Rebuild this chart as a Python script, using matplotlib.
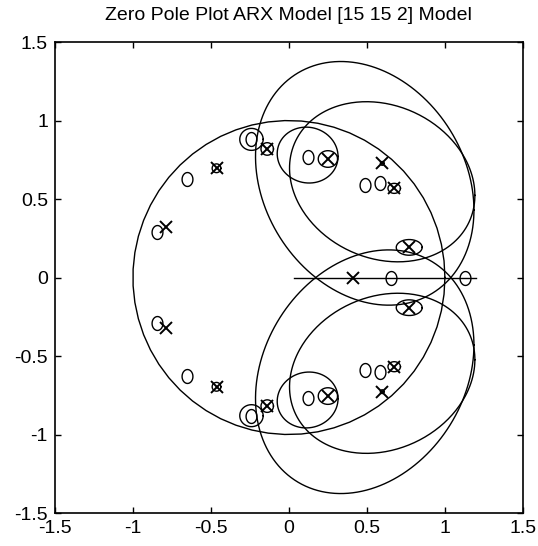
import numpy as np
import matplotlib
matplotlib.use("Agg")
import matplotlib.pyplot as plt
from matplotlib.path import Path

plt.rcParams.update({
    'font.family': ['Liberation Sans', 'DejaVu Sans'],
    'font.size': 14,
})

# complex zeros (upper half, conjugates mirrored below)
zero_re = [-0.848, -0.652, -0.24, 0.124, 0.487, 0.583]
zero_im = [0.292, 0.627, 0.88, 0.77, 0.589, 0.60]
real_zeros = [0.652, 1.13]

# complex poles (upper half)
pole_re = [-0.788, -0.464, -0.139, 0.25, 0.598, 0.675, 0.771]
pole_im = [0.324, 0.696, 0.819, 0.755, 0.727, 0.568, 0.192]
real_poles = [0.41]

# confidence regions (upper half): centre, half extents, correlation
ell_cx = [-0.24, 0.12, 0.486, 0.598, -0.464, -0.139, 0.25, 0.598, 0.675, 0.771]
ell_cy = [0.88, 0.78, 0.60, 0.61, 0.696, 0.819, 0.755, 0.727, 0.568, 0.192]
ell_rx = [0.075, 0.195, 0.70, 0.594, 0.028, 0.04, 0.062, 0.012, 0.04, 0.083]
ell_ry = [0.07, 0.178, 0.776, 0.51, 0.028, 0.04, 0.053, 0.012, 0.032, 0.05]
ell_rho = [0.0, -0.05, -0.22, -0.17, 0.0, 0.0, 0.0, 0.0, 0.0, 0.0]

# confidence interval of the real zero
real_ci = [0.03, 1.2]

ticks = [-1.5, -1, -0.5, 0, 0.5, 1, 1.5]
tick_labels = ['-1.5', '-1', '-0.5', '0', '0.5', '1', '1.5']

# slightly tall 'o' like the scanned figure
t = np.linspace(0, 2 * np.pi, 60)
oval = Path(np.column_stack([0.78 * np.cos(t), np.sin(t)]), closed=True)

fig = plt.figure(figsize=(5.38, 5.46), dpi=100)
ax = fig.add_axes([0.102, 0.0604, 0.870, 0.8626])

lk = dict(color='black', lw=1.0)

# unit circle
ax.plot(np.cos(t), np.sin(t), **lk)

tt = np.linspace(0, 2 * np.pi, 300)
for cx, cy, rx, ry, rho in zip(ell_cx, ell_cy, ell_rx, ell_ry, ell_rho):
    for s in (1, -1):
        ex = cx + rx * np.cos(tt)
        ey = s * cy + s * ry * (rho * np.cos(tt) + np.sqrt(1 - rho ** 2) * np.sin(tt))
        ax.plot(ex, ey, **lk)

ax.plot(real_ci, [0, 0], **lk)

zr = np.array(zero_re)
zi = np.array(zero_im)
pr = np.array(pole_re)
pi_ = np.array(pole_im)

ax.plot(np.concatenate([zr, zr, real_zeros]),
        np.concatenate([zi, -zi, np.zeros(len(real_zeros))]),
        linestyle='none', marker=oval, ms=10, mfc='none', mec='black', mew=1.0)
ax.plot(np.concatenate([pr, pr, real_poles]),
        np.concatenate([pi_, -pi_, np.zeros(len(real_poles))]),
        linestyle='none', marker='x', ms=8, mec='black', mew=1.4)

ax.set_xlim(-1.5, 1.5)
ax.set_ylim(-1.5, 1.5)
ax.set_xticks(ticks)
ax.set_xticklabels(tick_labels)
ax.set_yticks(ticks)
ax.set_yticklabels(tick_labels)
ax.tick_params(direction='in', length=4, width=1, top=True, right=True,
               labelsize=14, pad=5)
for sp in ax.spines.values():
    sp.set_linewidth(1.2)

ax.set_title('Zero Pole Plot ARX Model [15 15 2] Model', fontsize=14, pad=16)

fig.savefig('out.png', dpi=100, facecolor='white')
